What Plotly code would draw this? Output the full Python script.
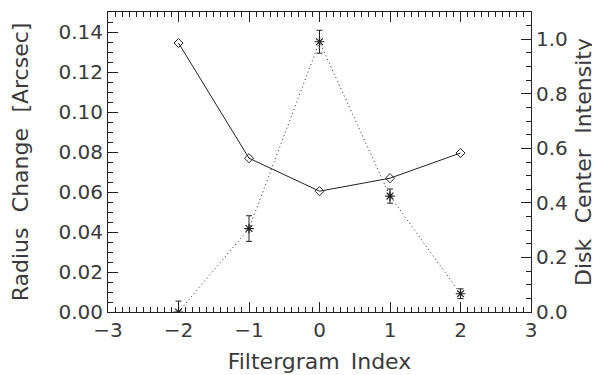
import plotly.graph_objects as go

filter_index = [-2, -1, 0, 1, 2]
radius_change = [0.1345, 0.0769, 0.0604, 0.0669, 0.0795]
intensity = [0.0, 0.306, 0.991, 0.425, 0.067]
intensity_err = [0.04, 0.047, 0.042, 0.026, 0.018]

ink = "#222222"
font = dict(family="DejaVu Sans", size=20, color="#3a3a3a")
tfont = dict(family="DejaVu Sans", size=22, color="#3a3a3a")
gap = "\u2002\u2009"

fig = go.Figure()
fig.add_trace(go.Scatter(
    x=filter_index, y=radius_change, mode="lines+markers",
    line=dict(color=ink, width=1),
    marker=dict(symbol="diamond-open", size=7, color=ink, line=dict(width=1)),
    yaxis="y", showlegend=False))
fig.add_trace(go.Scatter(
    x=filter_index, y=intensity, mode="lines+markers",
    line=dict(color=ink, width=1, dash="1px,3px"),
    marker=dict(symbol="asterisk-open", size=8, color=ink, line=dict(width=1.2, color=ink)),
    error_y=dict(type="data", array=intensity_err, color=ink, thickness=1, width=3),
    yaxis="y2", showlegend=False))

axis_common = dict(showline=True, linecolor=ink, linewidth=1, ticks="inside",
                   ticklen=10, tickcolor=ink, showgrid=False, zeroline=False,
                   tickfont=font, automargin=False)

fig.update_layout(
    width=600, height=375,
    margin=dict(l=100, r=77, t=4, b=71),
    paper_bgcolor="white", plot_bgcolor="white",
    font=font,
    xaxis=dict(range=[-3, 3], dtick=1, mirror="ticks",
               title=dict(text="Filtergram\u2002Index", font=tfont, standoff=12),
               minor=dict(ticks="inside", ticklen=5, dtick=0.1, tickcolor=ink),
               tickformat="d", **axis_common),
    yaxis=dict(range=[0, 0.15], dtick=0.02, tickformat=".2f",
               title=dict(text="Radius" + gap + "Change" + gap + "[Arcsec]", font=tfont, standoff=29),
               minor=dict(ticks="inside", ticklen=5, dtick=0.005, tickcolor=ink),
               **axis_common),
    yaxis2=dict(range=[0, 1.1], dtick=0.2, tickformat=".1f", overlaying="y", side="right",
                title=dict(text="Disk" + gap + "Center" + gap + "Intensity", font=tfont, standoff=8),
                minor=dict(ticks="inside", ticklen=5, dtick=0.05, tickcolor=ink),
                **axis_common),
)

fig.write_html("out.html")
